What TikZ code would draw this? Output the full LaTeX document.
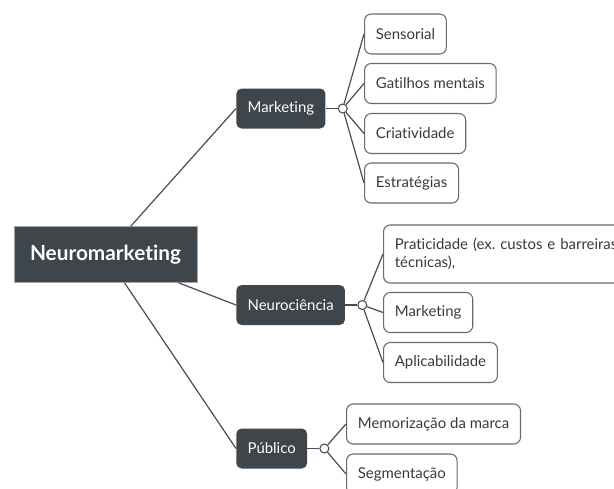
\documentclass[tikz,border=0pt]{standalone}
\usepackage{fontspec}
\setmainfont[Ligatures={NoCommon}]{Lato}
\usetikzlibrary{positioning}
\definecolor{slate}{HTML}{3E454B}
\definecolor{wiregray}{HTML}{474D52}
\definecolor{framegray}{HTML}{6A6A6A}
\definecolor{leafink}{HTML}{3A3A3A}
\tikzset{%
  root/.style   = {shape=rectangle, fill=slate, draw=gray!70, line width=0.4pt,%
                   text=white, font=\fontsize{15.6pt}{18pt}\selectfont\bfseries,%
                   minimum width=137pt, minimum height=42pt},%
  topic/.style  = {shape=rectangle, rounded corners=4pt, fill=slate,%
                   text=white, font=\fontsize{11.2pt}{13.3pt}\selectfont,%
                   inner xsep=8.5pt, minimum height=30pt, anchor=west},%
  leaf/.style   = {shape=rectangle, rounded corners=5pt, draw=framegray,%
                   line width=0.8pt, fill=white, text=leafink,%
                   font=\fontsize{11.2pt}{13.3pt}\selectfont,%
                   inner xsep=8.5pt, minimum height=30pt, anchor=west},%
  knot/.style   = {circle, draw=wiregray, line width=0.8pt, fill=white,%
                   inner sep=0pt, minimum size=6.75pt},%
  wire/.style   = {draw=wiregray, line width=0.9pt}%
}

\begin{document}
\frenchspacing
\begin{tikzpicture}[x=0.75pt, y=-0.75pt]
  \useasboundingbox (0,0) rectangle (614,489);

  % centre
  \node [root] (neuromkt) at (105.5,254.5) {Neuromarketing};

  % main branches
  \node [topic] (mkt)   at (236,108.5) {Marketing};
  \node [topic] (neuro) at (236,305)   {Neurociência};
  \node [topic] (pub)   at (236,448.5) {Público};

  \node [knot, right=9pt of mkt]   (knotmkt)   {};
  \node [knot, right=9pt of neuro] (knotneuro) {};
  \node [knot, right=9pt of pub]   (knotpub)   {};

  % leaves of Marketing
  \node [leaf] (sens) at (364,34)    {Sensorial};
  \node [leaf] (gat)  at (364,83.5)  {Gatilhos mentais};
  \node [leaf] (cri)  at (364,133.5) {Criatividade};
  \node [leaf] (est)  at (364,183)   {Estratégias};

  % leaves of Neurociência
  \node [leaf, text width=180pt, align=left, minimum height=43.5pt]
        (prat) at (383,254) {Praticidade (ex. custos e barreiras técnicas),};
  \node [leaf] (nmkt) at (383,312.5) {Marketing};
  \node [leaf] (apl)  at (383,362.5) {Aplicabilidade};

  % leaves of Público
  \node [leaf] (memo) at (346,424) {Memorização da marca};
  \node [leaf] (seg)  at (346,474) {Segmentação};

  % connectors
  \foreach \t in {mkt,neuro,pub}
    \draw [wire] (neuromkt) -- (\t.west);
  \draw [wire] (mkt.east) -- (knotmkt);
  \draw [wire] (neuro.east) -- (knotneuro);
  \draw [wire] (pub.east) -- (knotpub);
  \foreach \l in {sens,gat,cri,est}
    \draw [wire] (knotmkt) -- (\l.west);
  \foreach \l in {prat,nmkt,apl}
    \draw [wire] (knotneuro) -- (\l.west);
  \foreach \l in {memo,seg}
    \draw [wire] (knotpub) -- (\l.west);
\end{tikzpicture}
\end{document}
